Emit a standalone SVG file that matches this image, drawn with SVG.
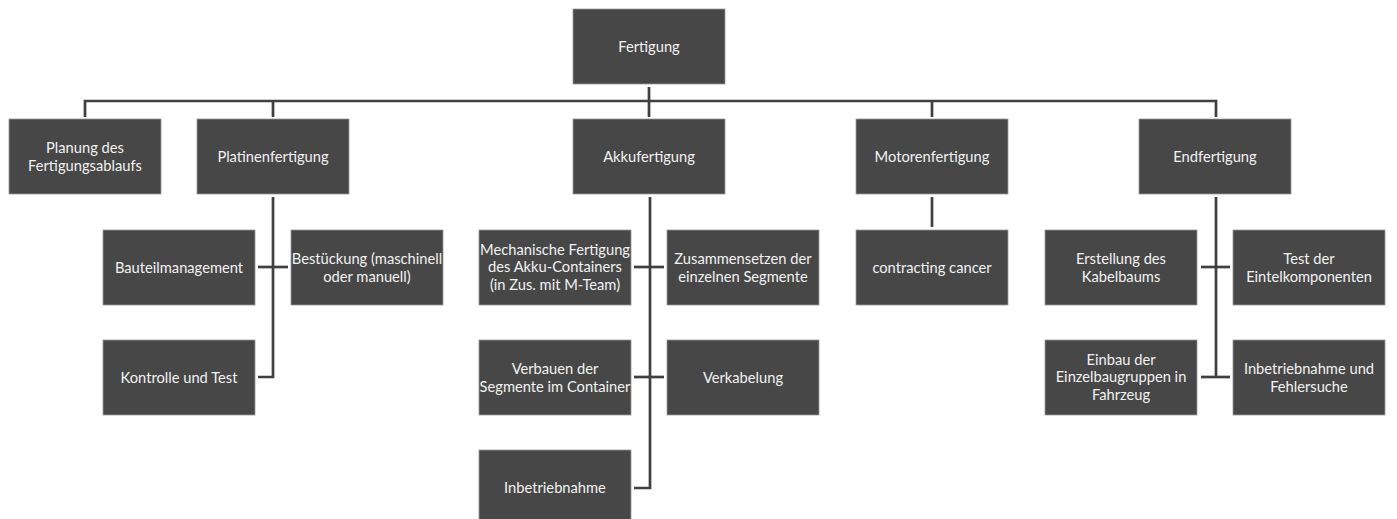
<svg xmlns="http://www.w3.org/2000/svg" width="1397" height="519" viewBox="0 0 1397 519">
<style>
.box{fill:#474747;stroke:#9a9a9a;stroke-width:0.8}
.t{font-family:Lato,"Open Sans","Liberation Sans",sans-serif;font-size:14.7px;fill:#f2f2f2;text-anchor:middle}
.c{fill:none;stroke:#404040;stroke-width:2.7}
</style>
<rect width="1397" height="519" fill="#ffffff"/>
<g id="connectors">
<path class="c" d="M85,117 V101 H1216 V117"/>
<path class="c" d="M273,101 V117"/>
<path class="c" d="M932,101 V117"/>
<path class="c" d="M649,87 V117"/>
<path class="c" d="M273,197 V377 H258"/>
<path class="c" d="M258,267 H288"/>
<path class="c" d="M650,197 V488 H634"/>
<path class="c" d="M634,267 H664"/>
<path class="c" d="M634,377 H664"/>
<path class="c" d="M932,197 V227"/>
<path class="c" d="M1216,197 V377"/>
<path class="c" d="M1201,267 H1230"/>
<path class="c" d="M1201,377 H1230"/>
</g>
<g id="n-fertigung"><rect class="box" x="573" y="9" width="152" height="75"/><text class="t" x="649" y="51.5">Fertigung</text></g>
<g id="n-planung"><rect class="box" x="9" y="119" width="152" height="75"/><text class="t" x="85" y="153">Planung des</text><text class="t" x="85" y="170.5">Fertigungsablaufs</text></g>
<g id="n-platinen"><rect class="box" x="197" y="119" width="152" height="75"/><text class="t" x="273" y="162">Platinenfertigung</text></g>
<g id="n-akku"><rect class="box" x="573" y="119" width="152" height="75"/><text class="t" x="649" y="162">Akkufertigung</text></g>
<g id="n-motor"><rect class="box" x="856" y="119" width="152" height="75"/><text class="t" x="932" y="162">Motorenfertigung</text></g>
<g id="n-end"><rect class="box" x="1139" y="119" width="152" height="75"/><text class="t" x="1215" y="162">Endfertigung</text></g>
<g id="n-bauteil"><rect class="box" x="103" y="230" width="152" height="75"/><text class="t" x="179" y="273">Bauteilmanagement</text></g>
<g id="n-bestueckung"><rect class="box" x="291" y="230" width="152" height="75"/><text class="t" x="367" y="264">Bestückung (maschinell</text><text class="t" x="367" y="281.5">oder manuell)</text></g>
<g id="n-kontrolle"><rect class="box" x="103" y="340" width="152" height="75"/><text class="t" x="179" y="383">Kontrolle und Test</text></g>
<g id="n-mech"><rect class="box" x="479" y="230" width="152" height="75"/><text class="t" x="555" y="254.5">Mechanische Fertigung</text><text class="t" x="555" y="272">des Akku-Containers</text><text class="t" x="555" y="289.5">(in Zus. mit M-Team)</text></g>
<g id="n-zusammen"><rect class="box" x="667" y="230" width="152" height="75"/><text class="t" x="743" y="264">Zusammensetzen der</text><text class="t" x="743" y="281.5">einzelnen Segmente</text></g>
<g id="n-verbauen"><rect class="box" x="479" y="340" width="152" height="75"/><text class="t" x="555" y="374">Verbauen der</text><text class="t" x="555" y="391.5">Segmente im Container</text></g>
<g id="n-verkabelung"><rect class="box" x="667" y="340" width="152" height="75"/><text class="t" x="743" y="383">Verkabelung</text></g>
<g id="n-inbetrieb"><rect class="box" x="479" y="450" width="152" height="75"/><text class="t" x="555" y="493">Inbetriebnahme</text></g>
<g id="n-cancer"><rect class="box" x="856" y="230" width="152" height="75"/><text class="t" x="932" y="273">contracting cancer</text></g>
<g id="n-kabelbaum"><rect class="box" x="1045" y="230" width="152" height="75"/><text class="t" x="1121" y="264">Erstellung des</text><text class="t" x="1121" y="281.5">Kabelbaums</text></g>
<g id="n-test"><rect class="box" x="1233" y="230" width="152" height="75"/><text class="t" x="1309" y="264">Test der</text><text class="t" x="1309" y="281.5">Eintelkomponenten</text></g>
<g id="n-einbau"><rect class="box" x="1045" y="340" width="152" height="75"/><text class="t" x="1121" y="364.5">Einbau der</text><text class="t" x="1121" y="382">Einzelbaugruppen in</text><text class="t" x="1121" y="399.5">Fahrzeug</text></g>
<g id="n-fehler"><rect class="box" x="1233" y="340" width="152" height="75"/><text class="t" x="1309" y="374">Inbetriebnahme und</text><text class="t" x="1309" y="391.5">Fehlersuche</text></g>
</svg>
